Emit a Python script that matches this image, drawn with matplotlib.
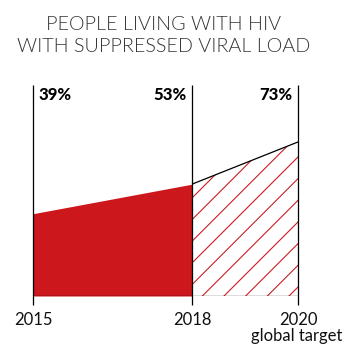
import matplotlib.pyplot as plt
import matplotlib as mpl

mpl.rcParams['font.family'] = ['Lato', 'DejaVu Sans']
mpl.rcParams['hatch.linewidth'] = 0.6

# Share of people living with HIV whose viral load is suppressed
years = [2015, 2018, 2020]
suppressed = [39, 53, 73]
year_labels = ['2015', '2018', '2020']
actual_years = years[:2]
actual_values = suppressed[:2]
target_years = years[1:]
target_values = suppressed[1:]

RED = '#cc171d'
DPI = 130
W, H = 352, 344

fig = plt.figure(figsize=(W / DPI, H / DPI), dpi=DPI)
ax = fig.add_axes([33 / W, 1 - 296 / H, (298 - 33) / W, (296 - 85) / H])
ax.set_xlim(years[0], years[-1])
ax.set_ylim(0, 100)
ax.axis('off')

# measured progress (solid) and the path to the global target (hatched)
ax.fill_between(actual_years, 0, actual_values, color=RED, linewidth=0)
ax.fill_between(target_years, 0, target_values, facecolor='white',
                edgecolor=RED, hatch='//', linewidth=0)
ax.plot(target_years, target_values, color='black', lw=0.7, solid_capstyle='butt')

# year markers and baseline
ax.vlines(years, -4.3, 100, color='black', lw=0.7, clip_on=False)
ax.hlines(0, years[0], years[-1], color='black', lw=0.7)

for i, (yr, val) in enumerate(zip(years, suppressed)):
    if i == 0:
        ax.annotate(f'{val}%', (yr, 100), xytext=(3, -1), textcoords='offset points',
                    ha='left', va='top', fontsize=9.2, fontweight='black')
    else:
        ax.annotate(f'{val}%', (yr, 100), xytext=(-3, -1), textcoords='offset points',
                    ha='right', va='top', fontsize=9.2, fontweight='black')
    ax.annotate(year_labels[i], (yr, 0), xytext=(0, -9), textcoords='offset points',
                ha='center', va='top', fontsize=9.2, color='#111111')

ax.annotate('global target', (years[-1], 0), xytext=(-1, -18), textcoords='offset points',
            ha='center', va='top', fontsize=9.2, color='#111111')

fig.text(164 / W, 1 - 16 / H, 'PEOPLE LIVING WITH HIV\nWITH SUPPRESSED VIRAL LOAD',
         ha='center', va='top', fontsize=10.95, fontweight=300,
         color='#333333', linespacing=1.33)

fig.savefig('out.png', dpi=DPI)
